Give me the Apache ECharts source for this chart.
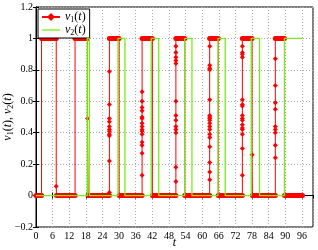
<!DOCTYPE html>
<html>
<head>
<meta charset="utf-8">
<script src="https://cdn.jsdelivr.net/npm/echarts@6/dist/echarts.min.js"></script>
<style>html,body{margin:0;padding:0;background:#fff}#c{width:318px;height:250px}</style>
</head>
<body>
<div id="c"></div>
<script>
// ---- data ----
const xTicks = [0, 6, 12, 18, 24, 30, 36, 42, 48, 54, 60, 66, 72, 78, 84, 90, 96];
const yTicks = [-0.2, 0, 0.2, 0.4, 0.6, 0.8, 1, 1.2];
// v1 plateaus: [tStart, tEnd, level]
const v1Plateaus = [
  [0, 2.0, 0], [2.0, 7.3, 1], [7.4, 14.1, 0], [14.1, 18.6, 1], [18.8, 26.5, 0],
  [26.5, 30.0, 1], [30.0, 38.3, 0], [38.3, 42.0, 1], [42.0, 50.5, 0], [50.5, 53.7, 1],
  [53.7, 62.7, 0], [62.7, 65.8, 1], [65.8, 74.5, 0], [74.5, 78.0, 1], [78.1, 86.4, 0],
  [86.4, 89.7, 1], [89.7, 96.2, 0]
];
// intermediate samples of v1 on each edge between consecutive plateaus
const v1Transitions = [
  [],
  [0.06],
  [],
  [0.49],
  [0.02, 0.22, 0.38, 0.39, 0.41, 0.42, 0.44, 0.47, 0.49, 0.58, 0.79],
  [],
  [0.13, 0.27, 0.32, 0.34, 0.39, 0.41, 0.42, 0.44, 0.46, 0.49, 0.50, 0.54, 0.56, 0.60, 0.66],
  [],
  [0.09, 0.18, 0.40, 0.42, 0.44, 0.48, 0.51, 0.60, 0.84, 0.86, 0.88, 0.91, 0.95],
  [],
  [0.10, 0.15, 0.21, 0.31, 0.37, 0.39, 0.42, 0.44, 0.46, 0.48, 0.49, 0.50, 0.51, 0.61, 0.80, 0.81, 0.83, 0.95],
  [],
  [0.13, 0.30, 0.39, 0.42, 0.43, 0.45, 0.48, 0.49, 0.51, 0.57, 0.58, 0.61, 0.88, 0.90, 0.91, 0.95],
  [0.26],
  [0.24, 0.32, 0.40, 0.42, 0.44, 0.55, 0.59, 0.70, 0.87],
  []
];
// v2 steps: [time, new value]
const v2Steps = [
  [0, 0], [18.5, 1], [19.3, 0], [29.6, 1], [32.1, 0], [41.6, 1], [44.3, 0],
  [53.7, 1], [56.3, 0], [65.7, 1], [68.3, 0], [77.7, 1], [80.7, 0], [89.7, 1], [96.2, 1]
];

// ---- build series data ----
const v1Points = [];
v1Plateaus.forEach((p, i) => {
  v1Points.push([p[0], p[2]]);
  v1Points.push([p[1], p[2]]);
  if (i < v1Transitions.length) {
    const next = v1Plateaus[i + 1];
    let vals = v1Transitions[i].slice();
    if (next[2] < p[2]) vals.sort((a, b) => b - a); else vals.sort((a, b) => a - b);
    vals.forEach(v => v1Points.push([p[1], v]));
  }
});

const SERIF = 'Liberation Serif';
const RED = '#ff0000';
const GREEN = '#77ee11';

const bandSeries = v1Plateaus.map(p => ({
  type: 'line', silent: true, symbol: 'none', z: 2,
  data: [[p[0], p[2]], [p[1], p[2]]],
  lineStyle: { color: RED, width: 5, cap: 'round' },
  animation: false
}));

const fmtY = v => {
  const r = Math.round(v * 10) / 10;
  return (r < 0 ? '\u2212' : '') + String(Math.abs(r));
};

const rich = {
  i: { fontFamily: SERIF, fontStyle: 'italic', fontSize: 12, color: '#000' },
  n: { fontFamily: SERIF, fontSize: 12, color: '#000' },
  s: { fontFamily: SERIF, fontSize: 8, color: '#000', verticalAlign: 'bottom', padding: [6, 0, 0, 0] }
};

const chart = echarts.init(document.getElementById('c'), null, { renderer: 'canvas' });
chart.setOption({
  animation: false,
  backgroundColor: '#fff',
  grid: { left: 36, right: 5, top: 7, bottom: 23, containLabel: false, outerBoundsMode: 'none',
          show: true, borderColor: '#000', borderWidth: 1, backgroundColor: 'transparent' },
  legend: {
    data: [{ name: 'v1' }, { name: 'v2', icon: 'path://M0 0 H18 V1.3 H0 Z' }],
    orient: 'vertical', left: 38, top: 9,
    backgroundColor: '#fff', borderColor: '#000', borderWidth: 1, borderRadius: 0,
    padding: [2, 4, 1, 3], itemGap: 0, itemWidth: 18, itemHeight: 10,
    formatter: name => name === 'v1' ? '{i|v}{s|1}{n|(}{i|t}{n|)}' : '{i|v}{s|2}{n|(}{i|t}{n|)}',
    textStyle: { rich: rich, fontSize: 12 }
  },
  xAxis: [{
    type: 'value', min: 0, max: 100, interval: 6,
    name: '{i|t}', nameLocation: 'middle', nameGap: 10, nameMoveOverlap: false,
    nameTextStyle: { rich: rich },
    axisLine: { show: true, lineStyle: { color: '#000', width: 1 } },
    axisTick: { show: true, inside: true, length: 3, lineStyle: { color: '#000' } },
    axisLabel: { showMaxLabel: false, fontFamily: SERIF, fontSize: 10, color: '#000', margin: 4 },
    splitLine: { show: true, lineStyle: { color: '#aaa', type: [1, 2], width: 1 } }
  }, {
    type: 'value', min: 0, max: 100, interval: 6, position: 'top',
    axisLine: { show: true, lineStyle: { color: '#000' } },
    axisTick: { show: true, inside: true, length: 3, lineStyle: { color: '#000' } },
    axisLabel: { show: false }, splitLine: { show: false }
  }],
  yAxis: [{
    type: 'value', min: -0.2, max: 1.2, interval: 0.2,
    name: '{i|v}{s|1}{n|(}{i|t}{n|), }{i|v}{s|2}{n|(}{i|t}{n|)}',
    nameLocation: 'middle', nameGap: 21, nameRotate: 90, nameMoveOverlap: false,
    nameTextStyle: { rich: rich },
    axisLine: { show: true, lineStyle: { color: '#000', width: 1 } },
    axisTick: { show: true, inside: true, length: 3, lineStyle: { color: '#000' } },
    axisLabel: { formatter: fmtY, fontFamily: SERIF, fontSize: 10, color: '#000', margin: 3 },
    splitLine: { show: true, lineStyle: { color: '#aaa', type: [1, 2], width: 1 } }
  }, {
    type: 'value', min: -0.2, max: 1.2, interval: 0.2, position: 'right',
    axisLine: { show: true, lineStyle: { color: '#000' } },
    axisTick: { show: true, inside: true, length: 3, lineStyle: { color: '#000' } },
    axisLabel: { show: false }, splitLine: { show: false }
  }],
  series: bandSeries.concat([
    {
      name: 'v1', type: 'line', data: v1Points, z: 3,
      symbol: 'diamond', symbolSize: 5, showAllSymbol: true,
      itemStyle: { color: RED },
      lineStyle: { color: RED, width: 1 }
    },
    {
      name: 'v2', type: 'line', data: v2Steps, step: 'end', z: 4,
      symbol: 'none',
      itemStyle: { color: GREEN },
      lineStyle: { color: GREEN, width: 1.3 }
    }
  ])
});
</script>
</body>
</html>
